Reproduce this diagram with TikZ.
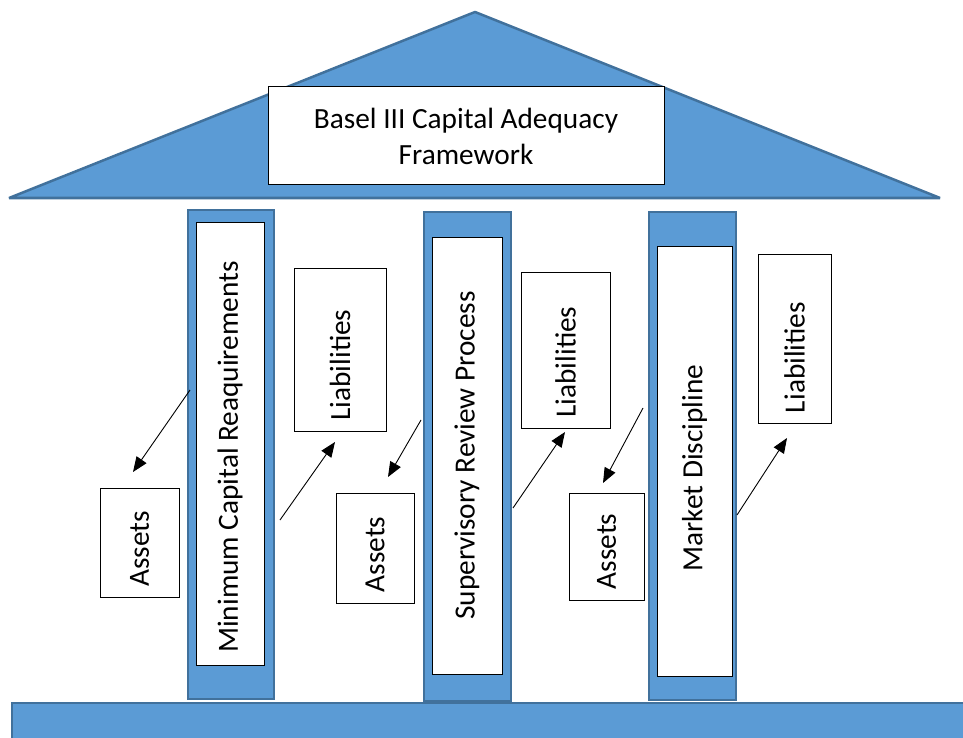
\documentclass[tikz,border=0pt]{standalone}
\usepackage{fontspec}
\setmainfont{Carlito}
\usetikzlibrary{arrows.meta}

\definecolor{fillblue}{HTML}{5B9BD5}
\definecolor{edgeblue}{HTML}{41719C}

\tikzset{
  pillar/.style={draw=edgeblue, line width=2pt, fill=fillblue, inner sep=0pt},
  txtbox/.style={draw, line width=1pt, fill=white, inner sep=0pt,
    font=\fontsize{29.3}{36}\selectfont},
  upright/.style={txtbox, rotate=90, execute at end node={\hspace*{#1}}},
  upright/.default=0pt,
  flow/.style={-{Triangle[length=15pt,width=12pt]}, line width=0.9pt}
}

\begin{document}
\begin{tikzpicture}[x=1pt,y=-1pt]
  \useasboundingbox (0,0) rectangle (963,738);
  % roof and foundation
  \draw [edgeblue, line width=2.5pt, line join=bevel, fill=fillblue] (9,198) -- (475,12) -- (940,198) -- cycle;
  \draw [edgeblue, line width=2.5pt, fill=fillblue] (980,760) |- (12,703) -- (12,760);
  \node [txtbox, align=center, minimum width=396pt, minimum height=98pt] (title) at (466,136)
    {Basel III Capital Adequacy\\Framework};
  % pillars
  \node [pillar, minimum width=86pt, minimum height=489pt] (p1) at (231,454.5) {};
  \node [pillar, minimum width=87pt, minimum height=489pt] (p2) at (467.5,456.5) {};
  \node [pillar, minimum width=87pt, minimum height=488pt] (p3) at (692.5,456) {};
  \node [upright=27pt, minimum width=443pt, minimum height=68pt] (mcr) at (230,443.5)
    {Minimum Capital Reaquirements};
  \node [upright, minimum width=437pt, minimum height=70pt] (srp) at (467,455.5)
    {Supervisory Review Process};
  \node [upright=14pt, minimum width=430pt, minimum height=75pt] (md) at (694.5,461)
    {Market Discipline};
  % assets and liabilities
  \node [upright=13pt, minimum width=109pt, minimum height=79pt] (assets1) at (139.5,542.5) {Assets};
  \node [upright=13pt, minimum width=110pt, minimum height=78pt] (assets2) at (375,548) {Assets};
  \node [upright=10pt, minimum width=107pt, minimum height=75pt] (assets3) at (606.5,546.5) {Assets};
  \node [upright=31pt, minimum width=163pt, minimum height=92pt] (liab1) at (340,349.5) {Liabilities};
  \node [upright=24pt, minimum width=156pt, minimum height=89pt] (liab2) at (565.5,350) {Liabilities};
  \node [upright=38pt, minimum width=169pt, minimum height=73pt] (liab3) at (794.5,338.5) {Liabilities};
  % arrow ends
  \coordinate (p1 out a) at (190,390);  \coordinate (assets1 in) at (133,472);
  \coordinate (p1 out l) at (280,520);  \coordinate (liab1 in) at (335,442);
  \coordinate (p2 out a) at (421,420);  \coordinate (assets2 in) at (388,477);
  \coordinate (p2 out l) at (513,508);  \coordinate (liab2 in) at (565,432);
  \coordinate (p3 out a) at (643,408);  \coordinate (assets3 in) at (603,483);
  \coordinate (p3 out l) at (737,515);  \coordinate (liab3 in) at (787,438);
  \draw [flow] (p1 out a) -- (assets1 in);
  \draw [flow] (p1 out l) -- (liab1 in);
  \draw [flow] (p2 out a) -- (assets2 in);
  \draw [flow] (p2 out l) -- (liab2 in);
  \draw [flow] (p3 out a) -- (assets3 in);
  \draw [flow] (p3 out l) -- (liab3 in);
\end{tikzpicture}
\end{document}
